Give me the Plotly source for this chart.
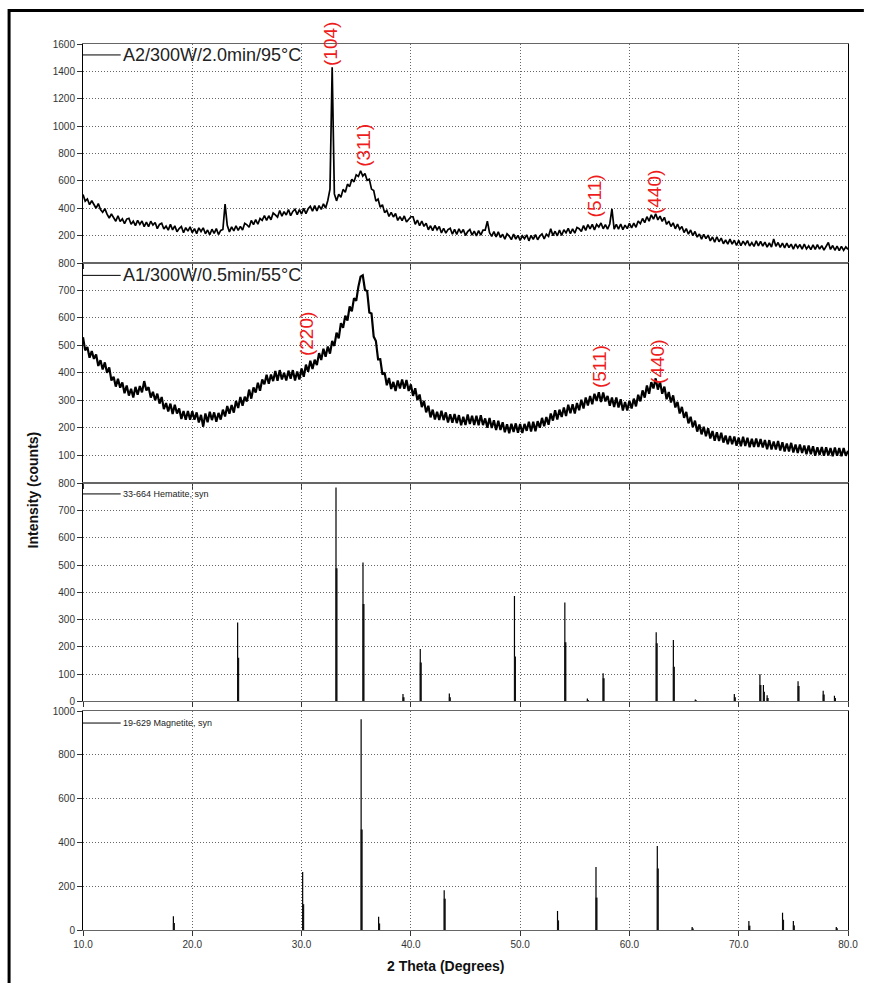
import numpy as np
import plotly.graph_objects as go

# ---------------- data ----------------
two_theta = np.round(np.arange(10.0, 80.0001, 0.2), 1)

a2_counts = [
    500, 452, 468, 426, 455, 432, 400, 434, 390, 370,
    397, 357, 329, 358, 336, 305, 345, 303, 323, 287,
    321, 327, 283, 305, 273, 312, 282, 307, 266, 299,
    265, 305, 277, 296, 251, 282, 291, 248, 269, 240,
    282, 242, 271, 228, 252, 266, 221, 258, 233, 264,
    222, 251, 214, 257, 230, 257, 214, 241, 206, 247,
    216, 251, 208, 238, 245, 430, 275, 227, 264, 235,
    272, 239, 268, 241, 290, 279, 261, 311, 281, 317,
    283, 325, 311, 347, 311, 345, 316, 365, 352, 335,
    384, 342, 375, 351, 391, 346, 377, 393, 353, 390,
    358, 399, 360, 396, 414, 379, 419, 381, 419, 392,
    432, 402, 457, 540, 1430, 505, 454, 502, 480, 538,
    517, 576, 558, 612, 593, 644, 632, 674, 635, 654,
    604, 612, 540, 529, 452, 467, 408, 425, 368, 385,
    340, 370, 336, 362, 311, 339, 309, 344, 299, 323,
    338, 338, 283, 314, 272, 307, 268, 291, 243, 272,
    237, 274, 243, 266, 219, 254, 218, 244, 254, 210,
    246, 209, 250, 218, 245, 201, 230, 245, 204, 233,
    198, 237, 204, 240, 240, 305, 222, 195, 230, 191,
    227, 186, 210, 175, 213, 197, 171, 211, 175, 202,
    165, 198, 178, 206, 162, 201, 172, 207, 170, 197,
    212, 176, 211, 195, 250, 200, 232, 199, 240, 201,
    243, 220, 253, 214, 249, 218, 259, 250, 230, 273,
    238, 281, 250, 282, 242, 282, 263, 292, 250, 281,
    248, 285, 395, 247, 282, 248, 285, 244, 277, 251,
    290, 256, 292, 261, 307, 287, 325, 295, 338, 306,
    352, 320, 360, 315, 342, 304, 334, 282, 306, 267,
    293, 250, 284, 246, 267, 223, 251, 211, 241, 200,
    230, 189, 212, 174, 210, 178, 204, 162, 190, 153,
    192, 155, 182, 141, 168, 138, 174, 138, 166, 128,
    165, 126, 159, 134, 163, 124, 149, 121, 162, 125,
    158, 124, 153, 116, 146, 117, 175, 122, 150, 114,
    146, 111, 146, 113, 138, 102, 139, 110, 135, 101,
    138, 103, 125, 98, 132, 99, 134, 101, 127, 94,
    126, 150, 99, 128, 93, 124, 90, 121, 92, 118,
    100,
]

a1_counts = [
    530, 482, 494, 455, 479, 451, 467, 425, 446, 412,
    438, 400, 420, 372, 386, 350, 378, 346, 365, 326,
    354, 317, 342, 310, 349, 320, 352, 329, 370, 336,
    348, 310, 331, 300, 324, 288, 312, 268, 290, 259,
    288, 250, 284, 252, 270, 232, 261, 229, 261, 229,
    260, 229, 256, 219, 247, 204, 252, 220, 258, 228,
    256, 222, 254, 230, 266, 241, 279, 251, 283, 255,
    298, 272, 312, 280, 313, 296, 339, 306, 347, 328,
    364, 335, 376, 358, 393, 360, 394, 370, 407, 371,
    410, 376, 400, 372, 408, 379, 410, 372, 405, 376,
    416, 386, 430, 404, 444, 414, 448, 428, 472, 447,
    488, 459, 496, 470, 516, 498, 546, 526, 581, 564,
    608, 590, 642, 624, 672, 662, 714, 750, 755, 702,
    698, 620, 616, 532, 516, 449, 450, 394, 401, 355,
    381, 341, 367, 334, 372, 343, 376, 342, 374, 334,
    358, 316, 344, 301, 321, 275, 298, 256, 280, 238,
    266, 230, 258, 228, 262, 228, 256, 219, 249, 218,
    250, 217, 246, 209, 240, 210, 248, 214, 244, 210,
    244, 209, 246, 210, 234, 200, 236, 199, 227, 192,
    226, 192, 220, 184, 213, 180, 215, 185, 216, 182,
    214, 181, 214, 189, 222, 186, 222, 187, 224, 200,
    236, 206, 239, 211, 252, 226, 264, 230, 266, 239,
    274, 243, 284, 253, 286, 252, 290, 264, 302, 270,
    310, 281, 316, 286, 324, 298, 329, 294, 328, 296,
    316, 280, 310, 276, 310, 274, 304, 263, 294, 263,
    298, 270, 306, 278, 320, 296, 336, 310, 354, 324,
    366, 343, 380, 339, 367, 324, 350, 304, 330, 292,
    318, 274, 294, 252, 276, 236, 258, 216, 240, 202,
    226, 186, 212, 176, 204, 169, 198, 161, 188, 153,
    184, 152, 182, 146, 172, 140, 170, 140, 168, 135,
    164, 133, 167, 134, 164, 129, 160, 130, 161, 130,
    159, 128, 155, 122, 155, 121, 150, 121, 152, 117,
    147, 114, 143, 114, 145, 110, 139, 108, 139, 108,
    135, 104, 135, 104, 133, 98, 129, 101, 130, 98,
    129, 99, 126, 96, 128, 98, 126, 96, 126, 98,
    116,
]

hem_pos = [24.15, 33.15, 35.62, 39.28, 40.86, 43.52, 49.48, 54.09, 56.15, 57.59,
           62.45, 64.02, 66.03, 69.60, 71.94, 72.26, 72.60, 75.43, 77.73, 78.76]
hem_main = [289, 785, 509, 27, 192, 29, 386, 363, 10, 103,
            253, 225, 7, 27, 99, 60, 22, 74, 39, 20]
hem_second = [160, 488, 357, 15, 142, 15, 164, 217, 5, 85,
              213, 127, 4, 15, 60, 35, 12, 56, 25, 12]

mag_pos = [18.27, 30.10, 35.45, 37.05, 43.05, 53.42, 56.94, 62.55, 65.74, 70.93, 74.01, 75.00, 78.93]
mag_main = [63, 265, 962, 60, 182, 87, 288, 383, 14, 41, 79, 41, 14]
mag_second = [32, 118, 459, 30, 143, 44, 148, 281, 7, 20, 47, 21, 8]

x_ticks = [10, 20, 30, 40, 50, 60, 70, 80]
x_tick_text = ["10.0", "20.0", "30.0", "40.0", "50.0", "60.0", "70.0", "80.0"]

sample_names = ["A2/300W/2.0min/95°C", "A1/300W/0.5min/55°C"]
ref_names = ["33-664 Hematite, syn", "19-629 Magnetite, syn"]

a2_labels = ["(104)", "(311)", "(511)", "(440)"]
a2_label_x = [32.6, 35.6, 56.8, 62.35]
a2_label_y = [1600, 862, 490, 519]
a1_labels = ["(311)", "(220)", "(511)", "(440)"]
a1_label_x = [35.4, 30.4, 57.2, 62.5]
a1_label_y = [824, 541, 424, 439]

# ---------------- geometry ----------------
W, H = 870, 983
ML, MR, MT, MB = 83, 16, 44, 53
PW, PH = W - ML - MR, H - MT - MB


def py(pix):
    return (H - MB - pix) / PH


def px(pix):
    return (pix - ML) / PW


domains = [
    [py(263), 1.0],
    [py(482.7), py(263)],
    [py(701.3), py(483.3)],
    [0.0, py(711)],
]

FONT = "Arial, 'Liberation Sans', sans-serif"


def sticks(pos, h, dx=0.0):
    xs, ys = [], []
    for p, v in zip(pos, h):
        xs += [p + dx, p + dx, None]
        ys += [0, v, None]
    return xs, ys


fig = go.Figure()

fig.add_trace(go.Scatter(x=two_theta, y=a2_counts, mode="lines",
                         line=dict(color="black", width=1.7),
                         xaxis="x", yaxis="y", showlegend=False, hoverinfo="skip"))
fig.add_trace(go.Scatter(x=two_theta, y=a1_counts, mode="lines",
                         line=dict(color="black", width=2.2),
                         xaxis="x2", yaxis="y2", showlegend=False, hoverinfo="skip"))

for pos, main, sec, xa, ya in [(hem_pos, hem_main, hem_second, "x3", "y3"),
                               (mag_pos, mag_main, mag_second, "x4", "y4")]:
    xs, ys = sticks(pos, main)
    fig.add_trace(go.Scatter(x=xs, y=ys, mode="lines", line=dict(color="black", width=1.2),
                             xaxis=xa, yaxis=ya, showlegend=False, hoverinfo="skip"))
    xs, ys = sticks(pos, sec, 0.05)
    fig.add_trace(go.Scatter(x=xs, y=ys, mode="lines", line=dict(color="#111", width=2),
                             xaxis=xa, yaxis=ya, showlegend=False, hoverinfo="skip"))

tickfont = dict(family=FONT, size=10, color="#333")
y_ranges = [[0, 1600], [0, 800], [0, 800], [0, 1000]]
y_tickvals = [list(range(200, 1601, 200)), list(range(100, 801, 100)),
              list(range(0, 801, 100)), list(range(0, 1001, 200))]

layout = dict(
    width=W, height=H,
    margin=dict(l=ML, r=MR, t=MT, b=MB),
    paper_bgcolor="white", plot_bgcolor="white",
    font=dict(family=FONT, color="#222"),
)
for i in range(4):
    k = "" if i == 0 else str(i + 1)
    layout["xaxis" + k] = dict(
        domain=[0, 1], anchor="y" + k, range=[10, 80],
        tickvals=x_ticks, ticktext=x_tick_text, showticklabels=(i == 3),
        showgrid=True, gridcolor="#666", griddash="1px,2px", gridwidth=1,
        showline=True, linecolor="#666", linewidth=1, mirror=True,
        ticks="outside", ticklen=5, tickcolor="#333", zeroline=False,
        tickfont=tickfont,
    )
    layout["yaxis" + k] = dict(
        domain=domains[i], anchor="x" + k, range=y_ranges[i],
        tickvals=y_tickvals[i],
        showgrid=True, gridcolor="#666", griddash="1px,2px", gridwidth=1,
        showline=True, linecolor="black", linewidth=1, mirror=True,
        ticks="outside", ticklen=5, tickcolor="#333", zeroline=False,
        tickfont=tickfont,
    )
fig.update_layout(**layout)

annotations = []
shapes = []

# legends inside each panel
legend_y = [1520, 755, 761, 945]
legend_size = [18, 18, 9, 9]
legend_text = sample_names + ref_names
for i in range(4):
    k = "" if i == 0 else str(i + 1)
    shapes.append(dict(type="line", xref="x" + k, yref="y" + k, x0=10, x1=13.45,
                       y0=legend_y[i], y1=legend_y[i], line=dict(color="black", width=1)))
    annotations.append(dict(xref="x" + k, yref="y" + k, x=13.5, y=legend_y[i], text=legend_text[i],
                            showarrow=False, xanchor="left", yanchor="middle",
                            font=dict(family=FONT, size=legend_size[i], color="#222")))

for txt, x, y in zip(a2_labels, a2_label_x, a2_label_y):
    annotations.append(dict(xref="x", yref="y", x=x, y=y, text=txt, textangle=-90,
                            showarrow=False, xanchor="center", yanchor="middle",
                            font=dict(family=FONT, size=19, color="#ee1c1c")))
for txt, x, y in zip(a1_labels, a1_label_x, a1_label_y):
    annotations.append(dict(xref="x2", yref="y2", x=x, y=y, text=txt, textangle=-90,
                            showarrow=False, xanchor="center", yanchor="middle",
                            font=dict(family=FONT, size=19, color="#ee1c1c")))

annotations.append(dict(xref="paper", yref="paper", x=px(448), y=py(966), text="<b>2 Theta (Degrees)</b>",
                        showarrow=False, xanchor="center", yanchor="middle",
                        font=dict(family=FONT, size=14, color="#111")))
annotations.append(dict(xref="paper", yref="paper", x=px(33), y=py(490), text="<b>Intensity (counts)</b>",
                        showarrow=False, xanchor="center", yanchor="middle", textangle=-90,
                        font=dict(family=FONT, size=14, color="#111")))

# outer frame (top and left edges)
shapes.append(dict(type="line", xref="paper", yref="paper", x0=px(8), x1=px(870),
                   y0=py(10.5), y1=py(10.5), line=dict(color="black", width=3)))
shapes.append(dict(type="line", xref="paper", yref="paper", x0=px(8.5), x1=px(8.5),
                   y0=py(9), y1=py(983), line=dict(color="black", width=3)))

fig.update_layout(annotations=annotations, shapes=shapes)

fig.write_html(
    "out.html",
    config={"displayModeBar": False},
    post_script="document.body.style.margin='0';document.body.style.overflow='hidden';",
)
